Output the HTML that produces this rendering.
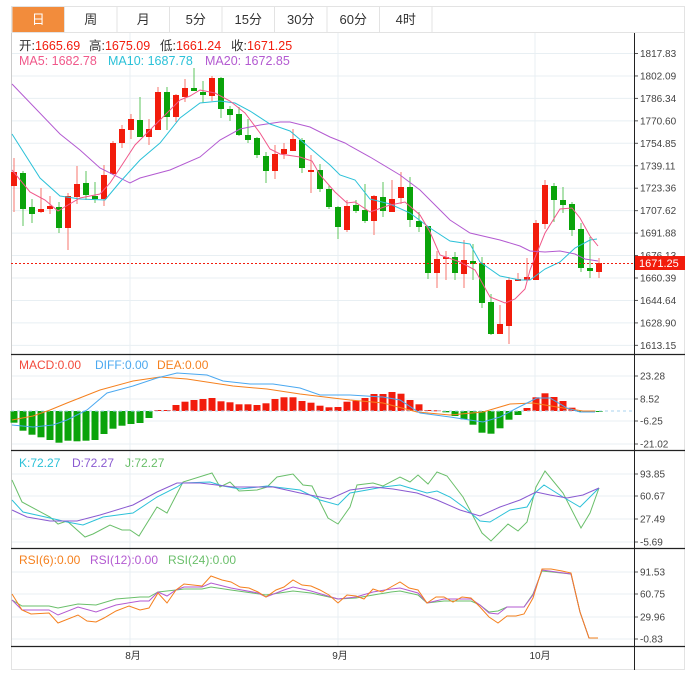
<!DOCTYPE html>
<html><head><meta charset="utf-8"><style>
body{margin:0;background:#fff;width:697px;height:682px;overflow:hidden;font-family:"Liberation Sans","Noto Sans CJK SC",sans-serif}
svg text{font-family:"Liberation Sans","Noto Sans CJK SC",sans-serif}
</style></head><body>
<svg id="s" width="697" height="682" xmlns="http://www.w3.org/2000/svg">
<rect x="11.5" y="6.5" width="673" height="663" fill="#fff" stroke="#e3e3e3"/>
<g id="tabs"></g>
<line x1="11" y1="32.5" x2="685" y2="32.5" stroke="#e3e3e3"/>
<g id="grid"></g>
<g id="main"></g>
<g font-size="12.5">
<text x="19" y="50" fill="#333">开:<tspan fill="#f21c0c">1665.69</tspan></text>
<text x="89" y="50" fill="#333">高:<tspan fill="#f21c0c">1675.09</tspan></text>
<text x="160" y="50" fill="#333">低:<tspan fill="#f21c0c">1661.24</tspan></text>
<text x="231" y="50" fill="#333">收:<tspan fill="#f21c0c">1671.25</tspan></text>
<text x="19" y="65" fill="#f0588a">MA5: 1682.78</text>
<text x="108" y="65" fill="#2bc1d8">MA10: 1687.78</text>
<text x="205" y="65" fill="#b35ad1">MA20: 1672.85</text>
</g>
<g font-size="12">
<text x="19" y="369" fill="#f24a3c">MACD:0.00</text>
<text x="95" y="369" fill="#4aa8f0">DIFF:0.00</text>
<text x="157" y="369" fill="#f5801e">DEA:0.00</text>
<text x="19" y="467" fill="#2bc1d8">K:72.27</text>
<text x="72" y="467" fill="#8a5ad1">D:72.27</text>
<text x="125" y="467" fill="#6abf6a">J:72.27</text>
<text x="19" y="564" fill="#f5801e">RSI(6):0.00</text>
<text x="90" y="564" fill="#b35ad1">RSI(12):0.00</text>
<text x="168" y="564" fill="#6abf6a">RSI(24):0.00</text>
</g>
</svg>
<script>
const S=document.getElementById('s');const NS='http://www.w3.org/2000/svg';
function el(t,a,p,txt){const e=document.createElementNS(NS,t);for(const k in a)e.setAttribute(k,a[k]);if(txt!==undefined)e.textContent=txt;(p||S).appendChild(e);return e;}
const tabs=['日','周','月','5分','15分','30分','60分','4时'];const tg=document.getElementById('tabs');
tabs.forEach((t,i)=>{const x=12+i*52.5;el('rect',{x:x,y:6.5,width:52.5,height:26,fill:i==0?'#f28c3c':'#fff',stroke:'#e3e3e3'},tg);
el('text',{x:x+26.25,y:24,'font-size':13,'text-anchor':'middle',fill:i==0?'#fff':'#333'},tg,t);});
const g=document.getElementById('grid');
const mainT=['1817.83','1802.09','1786.34','1770.60','1754.85','1739.11','1723.36','1707.62','1691.88','1676.13','1660.39','1644.64','1628.90','1613.15'];
function tick(y,l){el('line',{x1:11,y1:y,x2:634,y2:y,stroke:'#e8eff3'},g);el('line',{x1:634,y1:y,x2:638,y2:y,stroke:'#555'},g);el('text',{x:640,y:y+3.5,'font-size':10,fill:'#444'},g,l);}
mainT.forEach((l,i)=>tick(53.5+i*22.45,l));
[['23.28',376],['8.52',399],['-6.25',421],['-21.02',444]].forEach(a=>tick(a[1],a[0]));
[['93.85',474],['60.67',496],['27.49',519],['-5.69',542]].forEach(a=>tick(a[1],a[0]));
[['91.53',572],['60.75',594],['29.96',617],['-0.83',639]].forEach(a=>tick(a[1],a[0]));
[130,338,535].forEach(x=>el('line',{x1:x,y1:33,x2:x,y2:647,stroke:'#e8eff3'},g));
[[133,'8月'],[340,'9月'],[540,'10月']].forEach(a=>el('text',{x:a[0],y:659,'font-size':10,'text-anchor':'middle',fill:'#333'},g,a[1]));
el('line',{x1:11.5,y1:33,x2:11.5,y2:647,stroke:'#ccc'},g);
el('line',{x1:634.5,y1:33,x2:634.5,y2:670,stroke:'#222'},g);
[354.5,450.5,548.5,646.5].forEach(y=>el('line',{x1:11,y1:y,x2:685,y2:y,stroke:'#222','stroke-width':1.3},g));
const m=document.getElementById('main');
const C=[['r',172,186,158,212],['g',173,209,171,226],['g',207,214,199,223],['r',209,212,188,213],['r',206,209,196,214],['g',207,228,202,233],['r',196,228,193,250],['r',184,197,166,204],['g',183,195,171,200],['g',196,199,182,203],['r',175,199,165,206],['r',143,174,141,175],['r',129,143,125,148],['r',119,130,114,139],['g',120,137,97,137],['r',129,137,119,145],['r',92,130,87,130],['g',92,117,87,130],['r',95,117,94,122],['r',88,97,79,102],['g',88,91,68,91],['g',92,95,81,103],['r',78,96,76,101],['g',78,109,77,118],['g',109,115,106,121],['g',114,135,107,136],['g',135,140,119,143],['g',138,155,137,158],['g',156,171,152,183],['r',154,171,145,179],['r',149,154,143,159],['r',139,151,129,151],['g',140,168,138,173],['r',170,172,155,193],['g',170,189,164,192],['g',189,207,185,209],['g',207,227,206,239],['r',206,230,200,232],['g',205,211,200,213],['g',210,221,184,223],['r',196,221,195,235],['g',197,211,182,217],['r',199,212,180,212],['r',187,198,172,204],['g',187,220,177,227],['g',221,227,212,232],['g',226,273,226,279],['r',259,273,251,288],['r',257,259,251,280],['g',257,273,252,280],['r',260,274,240,288],['g',261,264,244,280],['g',263,303,257,308],['g',302,334,294,335],['r',324,334,305,334],['r',280,326,277,344],['r',279,281,273,281],['r',277,280,258,281],['r',223,280,220,280],['r',185,224,180,229],['g',186,200,183,222],['g',200,205,187,213],['g',204,230,202,236],['g',229,268,223,272],['g',268,271,237,278],['r',263,272,258,278]];
C.forEach((c,i)=>{const x=14+9*i;const col=c[0]=='r'?'#f21c0c':'#0aa30a';const wc=c[0]=='r'?'#f7766c':'#5cc45c';
el('line',{x1:x,y1:c[3],x2:x,y2:c[4],stroke:wc},m);el('rect',{x:x-3,y:c[1],width:6,height:Math.max(2,c[2]-c[1]),fill:col},m);});
function pl(pts,col,w){el('polyline',{points:pts.map(p=>p.join(',')).join(' '),fill:'none',stroke:col,'stroke-width':w||1},m);}
pl([[12,84],[60,134],[80,150],[100,168],[130,183],[140,178],[170,170],[200,157],[220,140],[240,129],[260,125],[280,122],[290,122],[310,127],[330,137],[345,143],[350,146],[370,157],[400,175],[420,190],[440,210],[450,220],[470,233],[500,240],[520,246],[530,251],[545,252],[560,251],[575,254],[585,259],[598,261]],'#b35ad1');
pl([[12,134],[40,178],[60,196],[80,199],[105,200],[120,182],[140,160],[160,143],[180,118],[200,103],[220,101],[235,103],[250,111],[270,124],[290,131],[310,148],[330,165],[340,175],[355,180],[370,199],[390,204],[410,213],[430,228],[450,241],[470,244],[480,262],[500,276],[520,280],[530,280],[545,269],[560,262],[575,248],[590,240],[597,239]],'#2bc1d8');
pl([[12,170],[30,192],[45,200],[58,211],[68,205],[80,198],[100,194],[110,183],[120,168],[135,145],[160,120],[180,100],[190,96],[200,90],[215,93],[230,101],[245,113],[260,133],[270,149],[280,154],[300,157],[312,161],[320,175],[335,192],[347,203],[355,202],[370,212],[390,205],[405,202],[420,215],[430,232],[440,255],[460,262],[475,270],[490,297],[505,303],[515,299],[525,289],[530,270],[545,233],[560,209],[572,208],[580,218],[590,236],[598,246]],'#f0588a');
el('line',{x1:11,y1:263.5,x2:634,y2:263.5,stroke:'#f21c0c','stroke-dasharray':'2,2'},m);
el('rect',{x:635,y:256,width:50,height:14,fill:'#f21c0c'},m);el('text',{x:639,y:267,'font-size':11,fill:'#fff'},m,'1671.25');
const Z=411;const M=[422.7,430.7,434.7,437.3,440,442.7,440.7,441.3,440.7,440,434,428.7,425.7,424,423,418,410,410,405,401.7,400,399,398,401.3,402.3,404.3,404.3,405,403.3,399,397.3,397.3,401,402.7,405.7,407.3,407,401.7,400.7,398,394,394,392,393.7,400,404.3,410,410.3,412.3,416,419.3,424.7,432.7,433.7,428.3,419.7,415,408,397.3,393.3,397,401,407.7,412,412,412];
M.forEach((v,i)=>{const x=14+9*i;const col=v>Z?'#0aa30a':'#f21c0c';const y=Math.min(v,Z),h=Math.max(1,Math.abs(v-Z));el('rect',{x:x-3.5,y:y,width:7,height:h,fill:col},m);});
el('line',{x1:11,y1:Z,x2:634,y2:Z,stroke:'#a9d3ef','stroke-dasharray':'3,3'},m);
pl([[12,420],[33,416],[50,410],[67,403],[100,390],[133,381],[160,377],[187,379],[233,386],[267,389],[300,394],[333,398],[350,400],[383,403],[417,412],[450,415],[483,412],[510,404],[533,403],[557,407],[583,411],[595,411]],'#f5801e');
pl([[12,425],[33,427],[53,425],[67,420],[87,410],[107,393],[133,386],[157,378],[177,373],[207,375],[223,381],[250,384],[273,384],[300,388],[320,395],[350,395],[383,397],[400,400],[420,413],[450,417],[483,422],[500,417],[517,408],[537,398],[550,398],[567,408],[580,412],[595,412]],'#4aa8f0');
pl([[12,480],[22,502],[50,517],[58,524],[67,521],[85,537],[93,534],[110,525],[122,530],[130,530],[139,536],[157,507],[167,513],[183,482],[212,473],[220,487],[230,482],[239,491],[257,490],[267,487],[277,477],[293,474],[303,485],[312,486],[328,518],[338,524],[350,507],[357,485],[373,483],[383,486],[400,477],[410,482],[418,475],[428,484],[437,472],[447,476],[463,497],[482,533],[491,541],[508,524],[518,531],[527,522],[536,487],[545,471],[563,493],[581,528],[590,513],[599,488]],'#6abf6a');
pl([[12,500],[23,512],[50,518],[67,522],[83,525],[103,517],[133,513],[157,497],[177,487],[183,483],[210,482],[223,486],[240,489],[267,486],[300,490],[320,500],[338,505],[350,493],[367,490],[383,487],[400,485],[410,488],[427,493],[437,491],[450,497],[465,508],[480,521],[490,522],[510,510],[527,507],[536,492],[544,485],[563,497],[580,507],[599,488]],'#2bc1d8');
pl([[12,510],[27,517],[50,521],[77,521],[100,515],[133,505],[157,492],[177,483],[200,483],[233,487],[273,487],[300,493],[330,499],[350,490],[373,487],[393,489],[417,493],[437,500],[460,510],[480,516],[500,507],[520,500],[536,492],[550,495],[567,498],[583,495],[599,488]],'#8a5ad1');
pl([[12,600],[22,606],[49,606],[58,608],[78,604],[96,605],[116,599],[140,597],[149,597],[158,592],[176,590],[184,589],[202,589],[211,587],[231,590],[266,595],[293,591],[311,593],[338,599],[356,598],[391,592],[400,591],[418,595],[427,603],[444,601],[471,601],[480,605],[489,612],[498,611],[507,607],[524,607],[533,594],[542,571],[571,574],[580,612],[589,638],[598,638]],'#6abf6a');
pl([[12,600],[22,610],[49,610],[58,615],[78,607],[96,612],[116,605],[140,601],[149,601],[158,592],[167,596],[176,590],[184,587],[202,587],[211,583],[231,588],[258,593],[266,597],[284,590],[293,587],[311,591],[338,599],[356,597],[373,592],[391,589],[400,588],[418,593],[427,603],[444,599],[471,599],[480,605],[489,613],[498,614],[507,607],[524,607],[533,595],[542,570],[571,574],[580,612],[589,638],[598,638]],'#b35ad1');
pl([[12,594],[22,610],[31,614],[49,613],[58,623],[78,615],[87,621],[96,622],[104,618],[116,611],[129,606],[140,610],[149,608],[158,593],[167,603],[176,590],[184,584],[202,586],[211,576],[222,580],[231,582],[240,587],[249,588],[258,592],[266,597],[276,590],[284,587],[293,580],[302,585],[311,586],[320,590],[329,595],[338,603],[347,595],[356,596],[364,599],[373,589],[382,592],[391,587],[400,582],[409,588],[418,590],[427,603],[436,597],[444,597],[453,602],[462,597],[471,598],[480,607],[489,617],[498,623],[507,616],[516,616],[524,614],[533,598],[542,569],[551,569],[562,571],[571,573],[580,612],[589,638],[598,638]],'#f5801e');
</script>
</body></html>
